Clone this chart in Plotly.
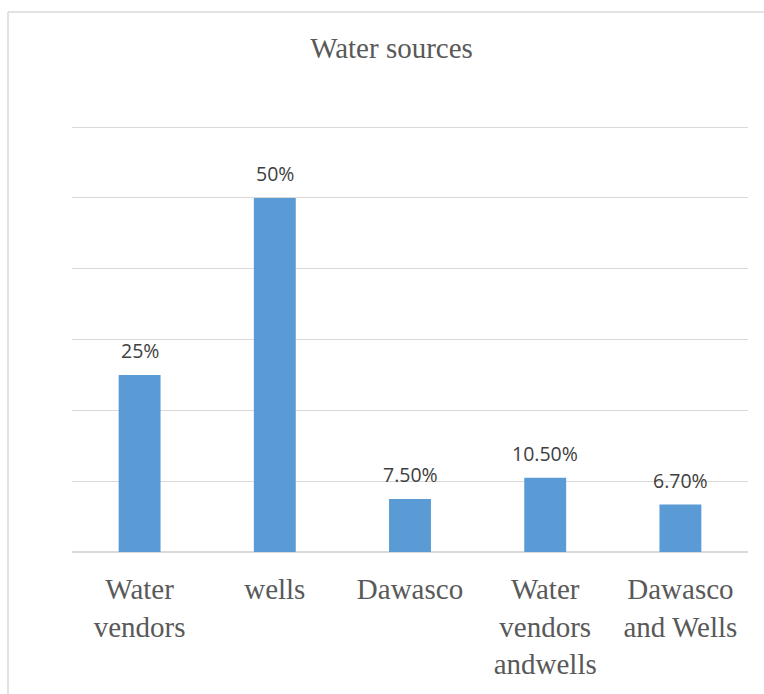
import plotly.graph_objects as go

categories = ["Water<br>vendors", "wells", "Dawasco", "Water<br>vendors<br>andwells", "Dawasco<br>and Wells"]
values = [25, 50, 7.5, 10.5, 6.7]
value_labels = ["25%", "50%", "7.50%", "10.50%", "6.70%"]
y_ticks = [0, 10, 20, 30, 40, 50, 60]

W, H = 764, 694
L, R, T, B = 72, 16, 120, 142
pw, ph = W - L - R, H - T - B
SERIF = "Liberation Serif, Times New Roman, serif"

fig = go.Figure()
fig.add_trace(go.Bar(
    x=categories, y=values,
    marker=dict(color="#5b9bd5", line=dict(width=0)),
    hoverinfo="skip",
))

for c, v, t in zip(categories, values, value_labels):
    fig.add_annotation(
        x=c, y=v, text=t, showarrow=False, yanchor="middle", yshift=24,
        font=dict(family="Open Sans", size=19.5, color="#404040"),
    )

# outer chart border (only left/top visible in frame)
bx0 = (8 - L) / pw
by1 = (H - B - 12) / ph
fig.add_shape(type="line", xref="paper", yref="paper", x0=bx0, x1=bx0, y0=by1, y1=-0.5,
              line=dict(color="#d9d9d9", width=1.5))
fig.add_shape(type="line", xref="paper", yref="paper", x0=bx0, x1=1.2, y0=by1, y1=by1,
              line=dict(color="#d9d9d9", width=1.5))

fig.update_layout(
    width=W, height=H,
    margin=dict(l=L, r=R, t=T, b=B, pad=0),
    paper_bgcolor="white", plot_bgcolor="white",
    font=dict(family=SERIF, size=29, color="#595959"),
    bargap=0.69,
    showlegend=False,
    title=dict(text="Water sources", xref="container", yref="container",
               x=391.5 / W, xanchor="center", y=1 - 48 / H, yanchor="middle",
               font=dict(family=SERIF, size=29, color="#595959")),
    xaxis=dict(showgrid=False, showline=False, ticks="", zeroline=False,
               ticklabelstandoff=17,
               tickfont=dict(family=SERIF, size=29, color="#595959")),
    yaxis=dict(range=[0, 61], tickvals=y_ticks, showticklabels=False,
               showgrid=True, gridcolor="#d9d9d9", gridwidth=1,
               zeroline=True, zerolinecolor="#d9d9d9", zerolinewidth=1.5,
               showline=False, ticks=""),
)

fig.write_html("out.html")
